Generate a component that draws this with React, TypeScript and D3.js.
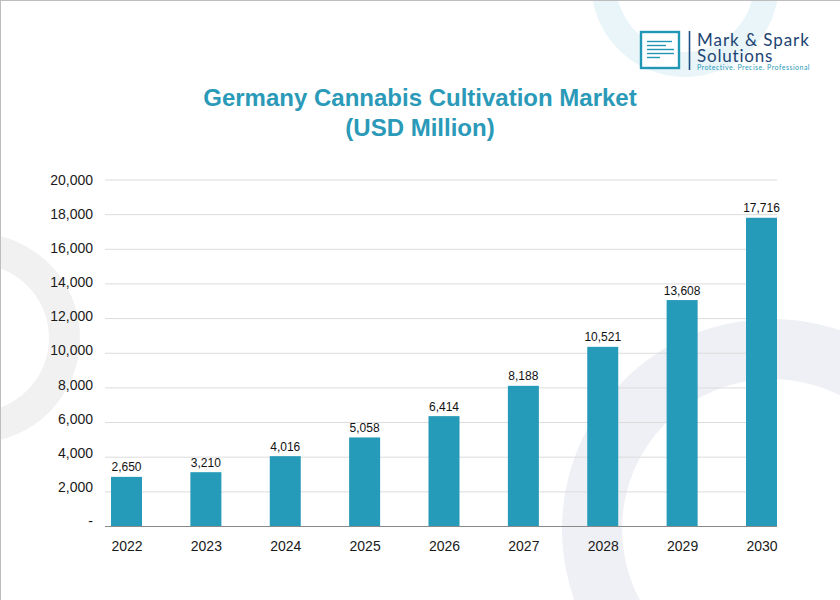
import { useEffect, useRef } from "react"
import * as d3 from "d3"

const years = ["2022", "2023", "2024", "2025", "2026", "2027", "2028", "2029", "2030"]
// numbers printed above the bars
const labelValues = [2650, 3210, 4016, 5058, 6414, 8188, 10521, 13608, 17716]
// levels the bars actually reach against the axis, they sit a bit off their printed numbers
const barLevels = [2865, 3135, 4060, 5140, 6370, 8120, 10370, 13070, 17820]
const yTicks = [0, 2000, 4000, 6000, 8000, 10000, 12000, 14000, 16000, 18000, 20000]
const titleLines = ["Germany Cannabis Cultivation Market", "(USD Million)"]
const logoLines = [44.5, 48.5, 52.5, 56.5, 60.5]
const logoLineEnds = [672, 666, 674, 674, 660]

const FONT = "'Liberation Sans', Arial, sans-serif"
const TEAL = "#259ab9"

export default function App() {
  const svgRef = useRef<SVGSVGElement>(null)

  useEffect(() => {
    if (!svgRef.current) return
    const svg = d3.select(svgRef.current)
    svg.selectAll("*").remove()

    const x = d3.scalePoint<string>().domain(years).range([126.5, 761.5])
    const y = d3.scaleLinear().domain([0, 20000]).range([526.5, 180])
    // tick labels are spaced a little tighter than the gridlines in the source
    const yLabel = d3.scaleLinear().domain([0, 20000]).range([521, 180])
    const barWidth = 31

    svg.append("rect").attr("width", 840).attr("height", 600).attr("fill", "#fff")

    // background rings
    const ring = d3.arc<any>().startAngle(0).endAngle(Math.PI * 2)
    const rings = [
      { cx: 685, cy: -17, inner: 69, outer: 94, fill: "#e9f5f8" },
      { cx: -25, cy: 338, inner: 74, outer: 105, fill: "#f1f1f1" },
      { cx: 772, cy: 529, inner: 150, outer: 210, fill: "#eef0f5" },
    ]
    svg
      .selectAll(".ring")
      .data(rings)
      .enter()
      .append("path")
      .attr("class", "ring")
      .attr("transform", (d) => `translate(${d.cx},${d.cy})`)
      .attr("d", (d) => ring({ innerRadius: d.inner, outerRadius: d.outer }))
      .attr("fill", (d) => d.fill)

    // page edge
    svg.append("line").attr("x1", 0).attr("x2", 840).attr("y1", 0.5).attr("y2", 0.5).attr("stroke", "#bdbdbd")
    svg.append("line").attr("x1", 0.5).attr("x2", 0.5).attr("y1", 0).attr("y2", 600).attr("stroke", "#bdbdbd")

    // logo
    const logo = svg.append("g")
    logo
      .append("rect")
      .attr("x", 641)
      .attr("y", 32)
      .attr("width", 38)
      .attr("height", 36)
      .attr("fill", "#fff")
      .attr("stroke", "#2297b5")
      .attr("stroke-width", 2.4)
    logo
      .selectAll(".logo-line")
      .data(logoLines)
      .enter()
      .append("line")
      .attr("class", "logo-line")
      .attr("x1", 647)
      .attr("x2", (_, i) => logoLineEnds[i])
      .attr("y1", (d) => d - 3)
      .attr("y2", (d) => d - 3)
      .attr("stroke", "#2297b5")
      .attr("stroke-width", 1.4)
    logo
      .append("line")
      .attr("x1", 689.5)
      .attr("x2", 689.5)
      .attr("y1", 31)
      .attr("y2", 70)
      .attr("stroke", "#1f4f80")
      .attr("stroke-width", 1.6)
    logo
      .append("text")
      .attr("x", 697)
      .attr("y", 45.5)
      .attr("font-family", "Lato, sans-serif")
      .attr("font-size", 17)
      .attr("letter-spacing", 0.95)
      .attr("fill", "#1d4473")
      .text("Mark & Spark")
    logo
      .append("text")
      .attr("x", 697)
      .attr("y", 61.5)
      .attr("font-family", "Lato, sans-serif")
      .attr("font-size", 17)
      .attr("letter-spacing", 0.8)
      .attr("fill", "#1d4473")
      .text("Solutions")
    logo
      .append("text")
      .attr("x", 697)
      .attr("y", 70)
      .attr("font-family", "Lato, sans-serif")
      .attr("font-size", 7)
      .attr("letter-spacing", 0.47)
      .attr("fill", "#2a9bb8")
      .text("Protective. Precise. Professional")

    // title
    svg
      .selectAll(".title")
      .data(titleLines)
      .enter()
      .append("text")
      .attr("class", "title")
      .attr("x", 420)
      .attr("y", (_, i) => 105.5 + i * 30)
      .attr("text-anchor", "middle")
      .attr("font-family", FONT)
      .attr("font-size", 24)
      .attr("font-weight", "bold")
      .attr("fill", "#2a9ab8")
      .text((d) => d)

    // gridlines
    svg
      .selectAll(".grid")
      .data(yTicks.slice(1))
      .enter()
      .append("line")
      .attr("class", "grid")
      .attr("x1", 105)
      .attr("x2", 777)
      .attr("y1", (d) => y(d))
      .attr("y2", (d) => y(d))
      .attr("stroke", "#dcdcdc")
      .attr("stroke-width", 1)

    // y axis labels
    const yAxis = d3
      .axisLeft(yLabel)
      .tickValues(yTicks)
      .tickSize(0)
      .tickPadding(0)
      .tickFormat((d) => (d === 0 ? "-" : d3.format(",")(d as number)))
    const yG = svg.append("g").attr("transform", "translate(93,0)").call(yAxis)
    yG.select(".domain").remove()
    yG.selectAll("text").attr("font-family", FONT).attr("font-size", 14).attr("fill", "#1a1a1a")

    // bars
    svg
      .selectAll(".bar")
      .data(years)
      .enter()
      .append("rect")
      .attr("class", "bar")
      .attr("x", (d) => x(d)! - barWidth / 2)
      .attr("width", barWidth)
      .attr("y", (_, i) => y(barLevels[i]))
      .attr("height", (_, i) => y(0) - y(barLevels[i]))
      .attr("fill", TEAL)

    // value labels
    svg
      .selectAll(".value")
      .data(years)
      .enter()
      .append("text")
      .attr("class", "value")
      .attr("x", (d) => x(d)!)
      .attr("y", (_, i) => y(barLevels[i]) - 5.5)
      .attr("text-anchor", "middle")
      .attr("font-family", FONT)
      .attr("font-size", 12)
      .attr("fill", "#111")
      .text((_, i) => d3.format(",")(labelValues[i]))

    // x axis
    const xAxis = d3.axisBottom(x).tickSize(0).tickPadding(0)
    const xG = svg.append("g").attr("transform", "translate(0,526.5)").call(xAxis)
    xG.select(".domain").remove()
    xG.selectAll("text")
      .attr("y", 24)
      .attr("dy", 0)
      .attr("font-family", FONT)
      .attr("font-size", 14)
      .attr("fill", "#1a1a1a")
    svg
      .append("line")
      .attr("x1", 105)
      .attr("x2", 777)
      .attr("y1", y(0))
      .attr("y2", y(0))
      .attr("stroke", "#8a8a8a")
      .attr("stroke-width", 1)
  }, [])

  return (
    <svg
      ref={svgRef}
      width={840}
      height={600}
      viewBox="0 0 840 600"
      style={{ position: "fixed", left: 0, top: 0, display: "block" }}
    />
  )
}
